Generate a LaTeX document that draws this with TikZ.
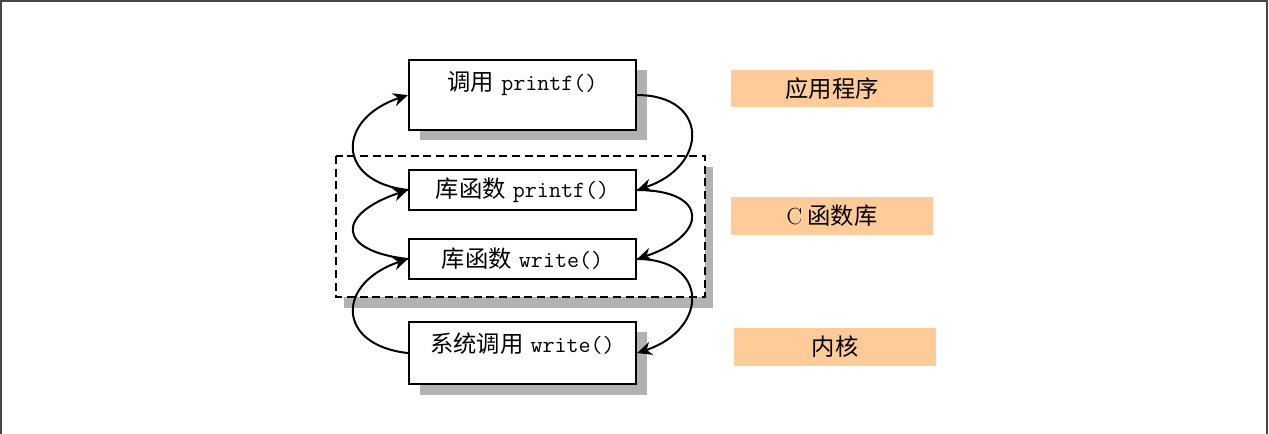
\documentclass[tikz,border=0pt]{standalone}
\usepackage{fontspec}
\newfontfamily\cjk{Noto Sans CJK SC}
\usetikzlibrary{arrows.meta}
\definecolor{layerFill}{RGB}{255,204,153}
\definecolor{shadeGray}{RGB}{178,178,178}
\definecolor{frameGray}{RGB}{70,70,70}

\begin{document}
\begin{tikzpicture}[x=.75pt,y=.75pt]
\tikzset{
fnbox/.style={draw=black,line width=1.6pt,fill=white,minimum width=170.25pt,minimum height=30pt,
inner sep=0pt,font=\fontsize{17.5}{20}\selectfont},
tallbox/.style={fnbox,anchor=north,text height=22.5pt},
layer/.style={fill=layerFill,minimum width=151.5pt,minimum height=28pt,inner sep=0pt,
font=\fontsize{17.5}{20}\selectfont\cjk},
shade/.style={fill=shadeGray},
call/.style={line width=1.5pt,-{Stealth[length=11pt,width=10pt,inset=3.5pt]}}
}
\useasboundingbox (0,0) rectangle (1269,-434);
\draw[line width=1pt,frameGray] (1,-434) -- (1,-1) -- (1267,-1) -- (1267,-434);
% shadows and the library frame
\fill[shade] (344,-167) rectangle (713,-308);
\fill[shade] (420,-70) rectangle (647,-140);
\fill[shade] (420,-332) rectangle (647,-395);
\draw[fill=white,line width=1.3pt,dash pattern=on 6pt off 3.5pt] (336,-156) rectangle (705,-297);
% call chain
\node[tallbox,text depth=30pt] (app) at (522.5,-59) {{\cjk 调用} \texttt{printf()}};
\node[fnbox] (libp) at (522.5,-190) {{\cjk 库函数} \texttt{printf()}};
\node[fnbox] (libw) at (522.5,-259) {{\cjk 库函数} \texttt{write()}};
\node[tallbox,text depth=24pt] (sys) at (522.5,-321) {{\cjk 系统调用} \texttt{write()}};
\foreach \a/\b in {app/libp,libp/libw,libw/sys}
  \draw[call] (\a.east) .. controls +(72,0) and +(72,24) .. (\b.east);
\foreach \a/\b in {sys/libw,libw/libp,libp/app}
  \draw[call] (\a.west) .. controls +(-72,8) and +(-72,-24) .. (\b.west);
% layers
\node[layer] (lApp) at (832,-88.5) {应用程序};
\node[layer] (lLib) at (832,-216) {{\rmfamily C} 函数库};
\node[layer] (lKer) at (835,-347) {内核};
\end{tikzpicture}
\end{document}
